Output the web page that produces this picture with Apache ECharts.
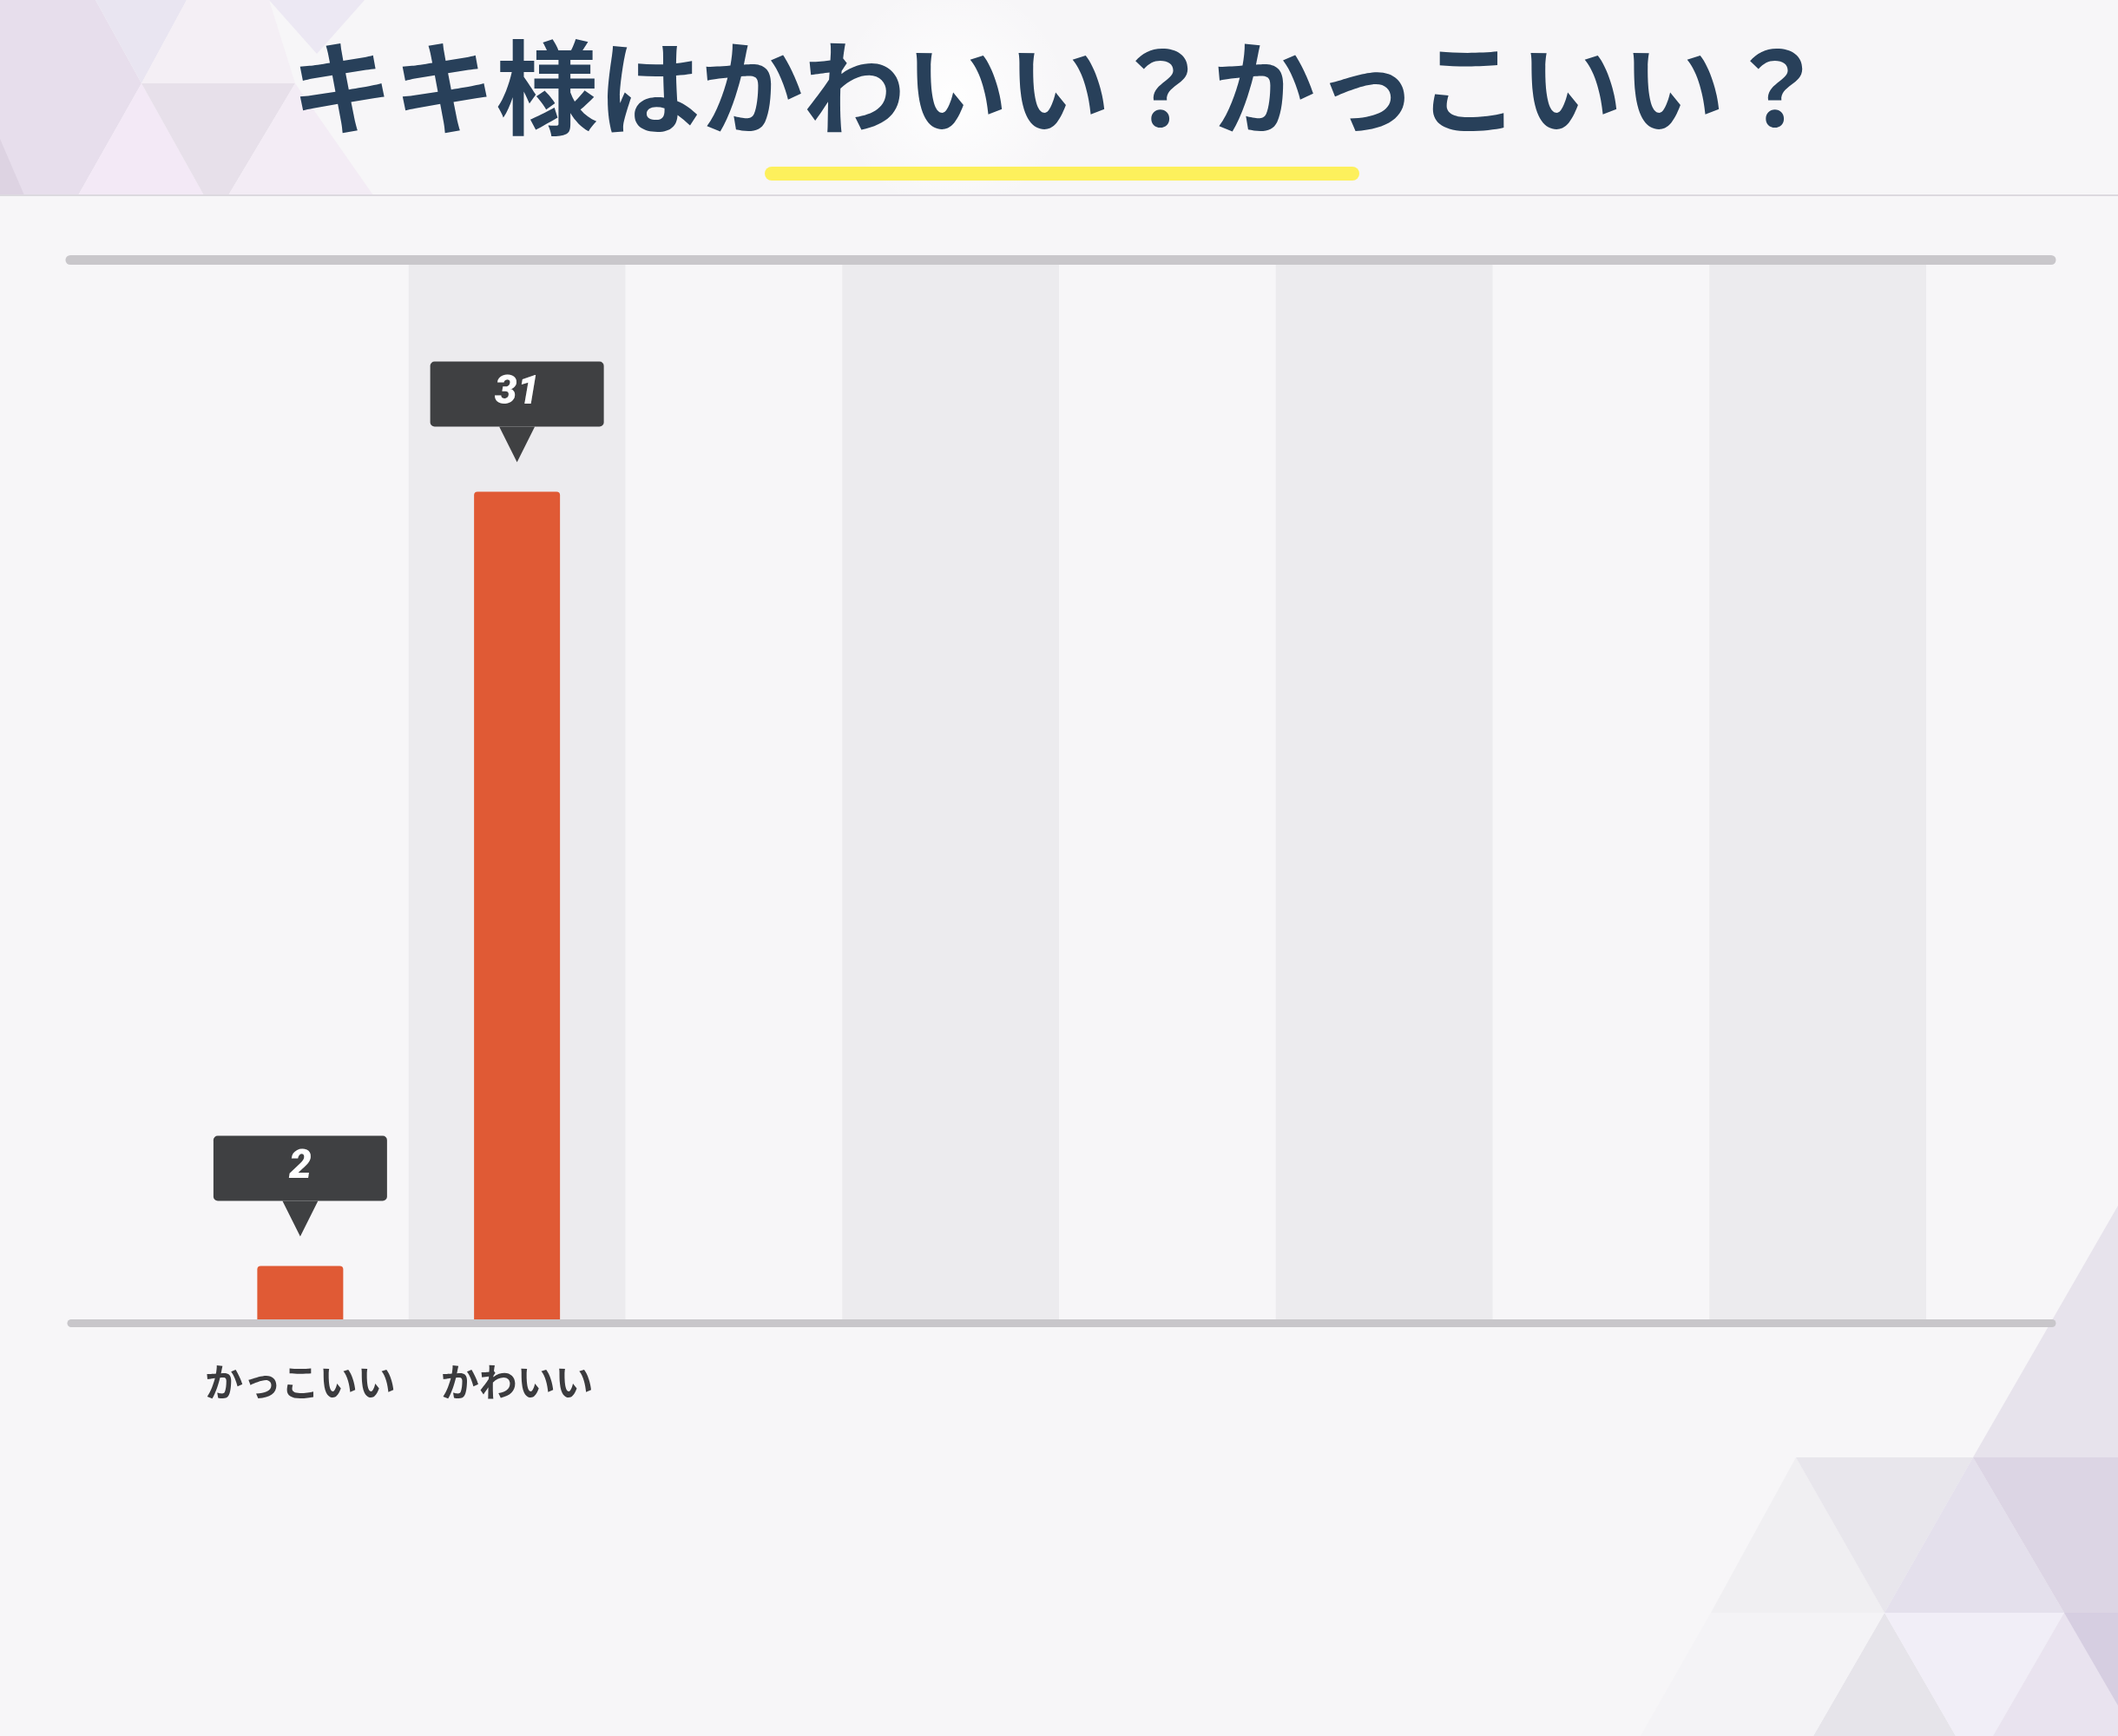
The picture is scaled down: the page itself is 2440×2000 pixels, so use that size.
<!DOCTYPE html>
<html>
<head>
<meta charset="utf-8">
<script src="https://cdn.jsdelivr.net/npm/echarts@6/dist/echarts.min.js"></script>
<style>
html,body{margin:0;padding:0;background:#f7f6f8;}
#chart{width:2440px;height:2000px;}
</style>
</head>
<body>
<div id="chart"></div>
<script>
const titleText = 'キキ様はかわいい？かっこいい？';
const categories = ['かっこいい', 'かわいい', '', '', '', '', '', ''];
const votes = [2, 31, null, null, null, null, null, null];
const yMax = 39.5;

const chart = echarts.init(document.getElementById('chart'));

function tri(points, fill, z) {
  return { type: 'polygon', shape: { points: points }, style: { fill: fill }, z: z || 0, silent: true };
}

const decor = [
  // header glow
  { type: 'rect', shape: { x: 0, y: 0, width: 2440, height: 225 }, z: -5, silent: true,
    style: { fill: new echarts.graphic.RadialGradient(0.45, 0.5, 0.6, [
      { offset: 0, color: 'rgba(255,255,255,0.95)' },
      { offset: 1, color: 'rgba(255,255,255,0)' }]) } },
  // top-left triangles
  tri([[0,0],[110,0],[0,225]], '#e4dcea'),
  tri([[0,0],[0,225],[90,225],[163,96],[110,0]], '#e7deec'),
  tri([[110,0],[215,0],[163,96]], '#e9e5f1'),
  tri([[163,96],[90,225],[235,225]], '#f3e9f6'),
  tri([[163,96],[340,96],[263,225],[235,225]], '#e7e0ea'),
  tri([[215,0],[310,0],[340,96],[163,96]], '#f4eff5'),
  tri([[310,0],[420,0],[365,62]], '#ece8f3'),
  tri([[340,96],[430,225],[263,225]], '#f3ecf5'),
  tri([[0,160],[0,225],[28,225]], '#ddd3e2'),
  // bottom-right triangles
  tri([[2069,1679],[1971,1858],[2171,1858]], '#f0eff2'),
  tri([[2069,1679],[2273,1679],[2171,1858]], '#e8e6ec'),
  tri([[2273,1679],[2171,1858],[2378,1858]], '#e4e0ec'),
  tri([[2273,1679],[2378,1858],[2440,1858],[2440,1679]], '#dcd5e4'),
  tri([[2273,1679],[2440,1389],[2440,1679]], '#e7e3ec'),
  tri([[2171,1858],[2089,2000],[2253,2000]], '#e6e4ea'),
  tri([[2171,1858],[2378,1858],[2296,2000],[2253,2000]], '#f1eef7'),
  tri([[2378,1858],[2296,2000],[2440,2000],[2440,1858]], '#e9e3ef'),
  tri([[2378,1858],[2440,1858],[2440,1965]], '#d6cee1'),
  tri([[1971,1858],[2171,1858],[2089,2000],[1890,2000]], '#f4f3f6'),
  // header separator
  { type: 'line', shape: { x1: 0, y1: 225, x2: 2440, y2: 225 }, style: { stroke: '#dcd9df', lineWidth: 2 }, z: 5, silent: true },
  // yellow underline
  { type: 'line', shape: { x1: 889, y1: 200, x2: 1558, y2: 200 }, style: { stroke: '#fdf05c', lineWidth: 16, lineCap: 'round' }, z: 5, silent: true },
  // top rule
  { type: 'line', shape: { x1: 81, y1: 299.5, x2: 2363, y2: 299.5 }, style: { stroke: '#c9c7cb', lineWidth: 11, lineCap: 'round' }, z: 100, silent: true },
  // baseline rule
  { type: 'line', shape: { x1: 82, y1: 1524.5, x2: 2364, y2: 1524.5 }, style: { stroke: '#c8c6ca', lineWidth: 9, lineCap: 'round' }, z: 100, silent: true }
];

chart.setOption({
  backgroundColor: '#f7f6f8',
  animation: false,
  title: {
    text: titleText,
    left: 'center',
    top: 40,
    padding: 0,
    textStyle: {
      fontFamily: '"Noto Sans CJK JP"',
      fontWeight: 'bold',
      fontSize: 118,
      lineHeight: 122,
      color: '#28405a'
    }
  },
  graphic: decor,
  grid: { left: 221, right: 221, top: 305, bottom: 480, containLabel: false },
  xAxis: {
    type: 'category',
    data: categories,
    axisLine: { show: false },
    axisTick: { show: false },
    axisLabel: {
      show: true,
      interval: 0,
      margin: 50,
      fontFamily: '"Noto Sans CJK JP"',
      fontWeight: 'bold',
      fontSize: 44,
      color: '#3b3b3e'
    },
    splitArea: {
      show: true,
      interval: 0,
      areaStyle: { color: ['rgba(0,0,0,0)', '#ecebee'] }
    }
  },
  yAxis: {
    type: 'value',
    min: 0,
    max: yMax,
    show: false,
    splitLine: { show: false }
  },
  series: [
    {
      type: 'scatter',
      data: votes,
      symbol: 'path://M0,0 L41,0 L20.5,41 Z',
      symbolSize: [41, 41],
      symbolOffset: [0, -54.5],
      itemStyle: { color: '#3f4042', opacity: 1 },
      silent: true,
      z: 2
    },
    {
      type: 'bar',
      data: votes,
      barWidth: 99,
      itemStyle: { color: '#e05a35', borderRadius: [4, 4, 0, 0] },
      label: {
        show: true,
        position: 'top',
        distance: 75,
        formatter: '{v|{c}}',
        rich: {
          v: {
            backgroundColor: '#3f4042',
            borderRadius: 5,
            width: 200,
            height: 75,
            lineHeight: 75,
            align: 'center',
            color: '#ffffff',
            fontFamily: 'Roboto',
            fontWeight: 900,
            fontStyle: 'italic',
            fontSize: 46
          }
        }
      },
      z: 3
    }
  ]
});
</script>
</body>
</html>
